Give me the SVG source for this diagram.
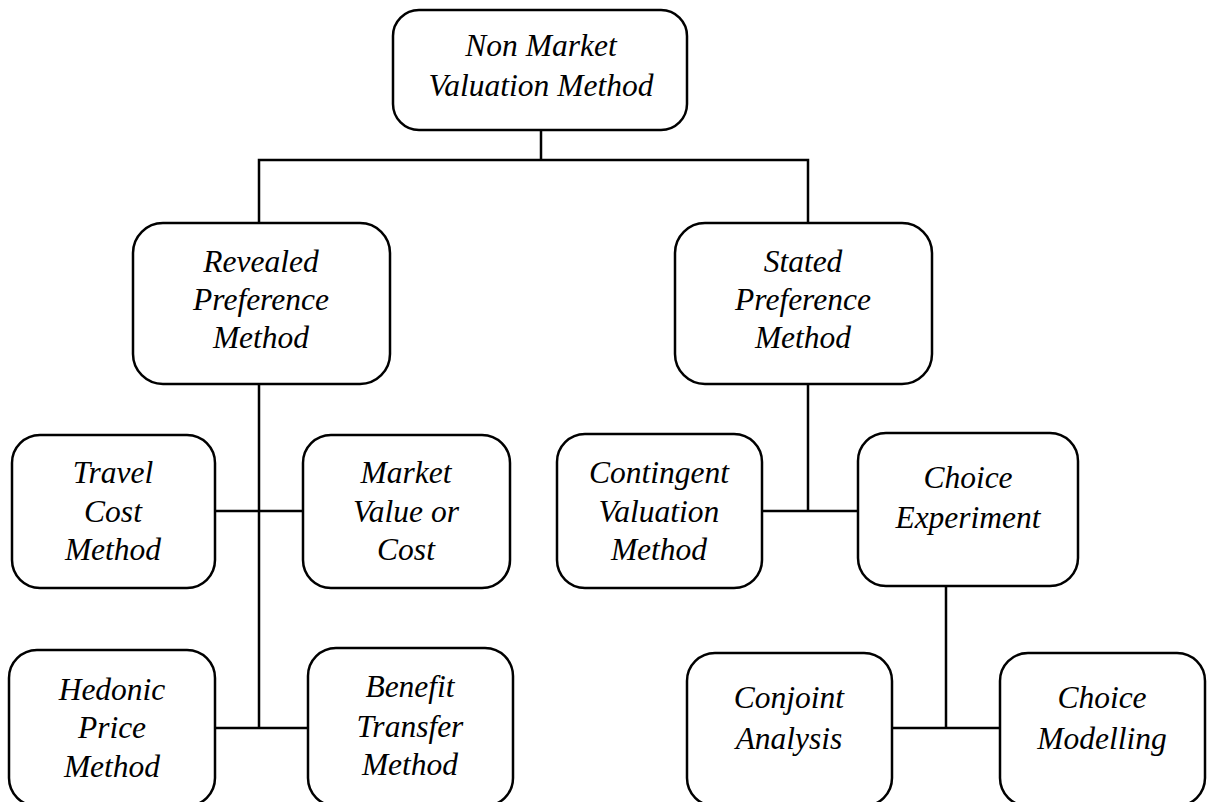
<svg xmlns="http://www.w3.org/2000/svg" width="1211" height="802" viewBox="0 0 1211 802">
<style>
.box{fill:#fff;stroke:#000;stroke-width:2.5}
.lbl{font-family:"Liberation Serif","Times New Roman",serif;font-style:italic;font-size:31.5px;fill:#000;text-anchor:middle}
.conn{fill:none;stroke:#000;stroke-width:2.5}
</style>
<rect width="1211" height="802" fill="#fff"/>
<g id="connectors">
<path class="conn" d="M541 130V160M259 222V160H808V222"/>
<path class="conn" d="M259 384V728M215 511H303M215 728H308"/>
<path class="conn" d="M808 384V511M762 511H858"/>
<path class="conn" d="M946 586V728M892 728H1000"/>
</g>
<g id="n-root"><rect class="box" x="393" y="10" width="294" height="120" rx="26"/>
<text class="lbl" x="541" y="56">Non Market</text><text class="lbl" x="541" y="96">Valuation Method</text></g>
<g id="n-revealed"><rect class="box" x="133" y="223" width="257" height="161" rx="30"/>
<text class="lbl" x="261" y="272">Revealed</text><text class="lbl" x="261" y="310">Preference</text><text class="lbl" x="261" y="348">Method</text></g>
<g id="n-stated"><rect class="box" x="675" y="223" width="257" height="161" rx="30"/>
<text class="lbl" x="803" y="272">Stated</text><text class="lbl" x="803" y="310">Preference</text><text class="lbl" x="803" y="348">Method</text></g>
<g id="n-travel"><rect class="box" x="12" y="435" width="203" height="153" rx="28"/>
<text class="lbl" x="113" y="483">Travel</text><text class="lbl" x="113" y="522">Cost</text><text class="lbl" x="113" y="560">Method</text></g>
<g id="n-market"><rect class="box" x="303" y="435" width="207" height="153" rx="28"/>
<text class="lbl" x="406" y="483">Market</text><text class="lbl" x="406" y="522">Value or</text><text class="lbl" x="406" y="560">Cost</text></g>
<g id="n-contingent"><rect class="box" x="557" y="434" width="205" height="154" rx="28"/>
<text class="lbl" x="659" y="483">Contingent</text><text class="lbl" x="659" y="522">Valuation</text><text class="lbl" x="659" y="560">Method</text></g>
<g id="n-choiceexp"><rect class="box" x="858" y="433" width="220" height="153" rx="28"/>
<text class="lbl" x="968" y="488">Choice</text><text class="lbl" x="968" y="528">Experiment</text></g>
<g id="n-hedonic"><rect class="box" x="9" y="650" width="206" height="156" rx="28"/>
<text class="lbl" x="112" y="700">Hedonic</text><text class="lbl" x="112" y="738">Price</text><text class="lbl" x="112" y="777">Method</text></g>
<g id="n-benefit"><rect class="box" x="308" y="648" width="205" height="158" rx="28"/>
<text class="lbl" x="410" y="697">Benefit</text><text class="lbl" x="410" y="737">Transfer</text><text class="lbl" x="410" y="775">Method</text></g>
<g id="n-conjoint"><rect class="box" x="687" y="653" width="205" height="153" rx="28"/>
<text class="lbl" x="789" y="708">Conjoint</text><text class="lbl" x="789" y="749">Analysis</text></g>
<g id="n-choicemod"><rect class="box" x="1000" y="653" width="205" height="153" rx="28"/>
<text class="lbl" x="1102" y="708">Choice</text><text class="lbl" x="1102" y="749">Modelling</text></g>
</svg>
